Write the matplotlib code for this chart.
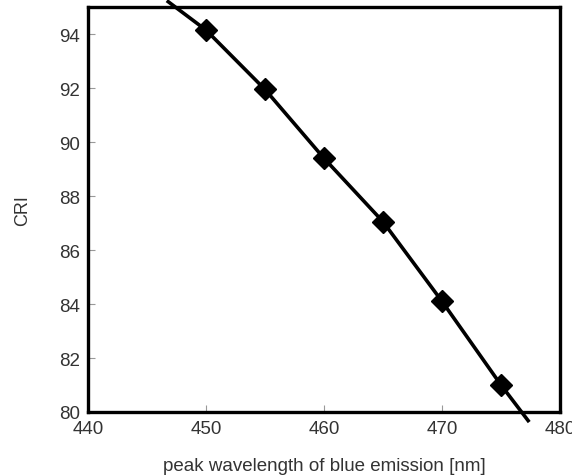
import matplotlib
matplotlib.use("Agg")
import matplotlib.pyplot as plt

# data
wavelength = [450, 455, 460, 465, 470, 475]
cri = [94.15, 91.95, 89.4, 87.05, 84.1, 81.0]
# fitted line extends beyond the marker points (and beyond the frame)
line_x = [446.8, 450, 455, 460, 465, 470, 475, 477.3]
line_y = [95.2, 94.15, 91.95, 89.4, 87.05, 84.1, 81.0, 79.68]

xticks = [440, 450, 460, 470, 480]
yticks = [80, 82, 84, 86, 88, 90, 92, 94]

plt.rcParams['font.family'] = ['Liberation Sans', 'DejaVu Sans']

fig = plt.figure(figsize=(5.72, 4.77), dpi=100)
ax = fig.add_axes([0.1538, 0.1342, 0.8252, 0.8488])

ax.plot(line_x, line_y, color='black', lw=2.6, clip_on=False, zorder=3)
ax.plot(wavelength, cri, linestyle='none', marker='D', markersize=11,
        color='black', clip_on=False, zorder=4)

ax.set_xlim(440, 480)
ax.set_ylim(80, 95)
ax.set_xticks(xticks)
ax.set_yticks(yticks)
ax.tick_params(direction='in', length=5, width=0.8, color='#999999',
               labelsize=13.5, labelcolor='#333333', pad=6)
for s in ax.spines.values():
    s.set_linewidth(2.4)
    s.set_color('black')

ax.set_xlabel('peak wavelength of blue emission [nm]', fontsize=13.5,
              color='#333333', labelpad=14)
ax.set_ylabel('CRI', fontsize=13, color='#333333', labelpad=20)

fig.savefig('out.png', dpi=100)
